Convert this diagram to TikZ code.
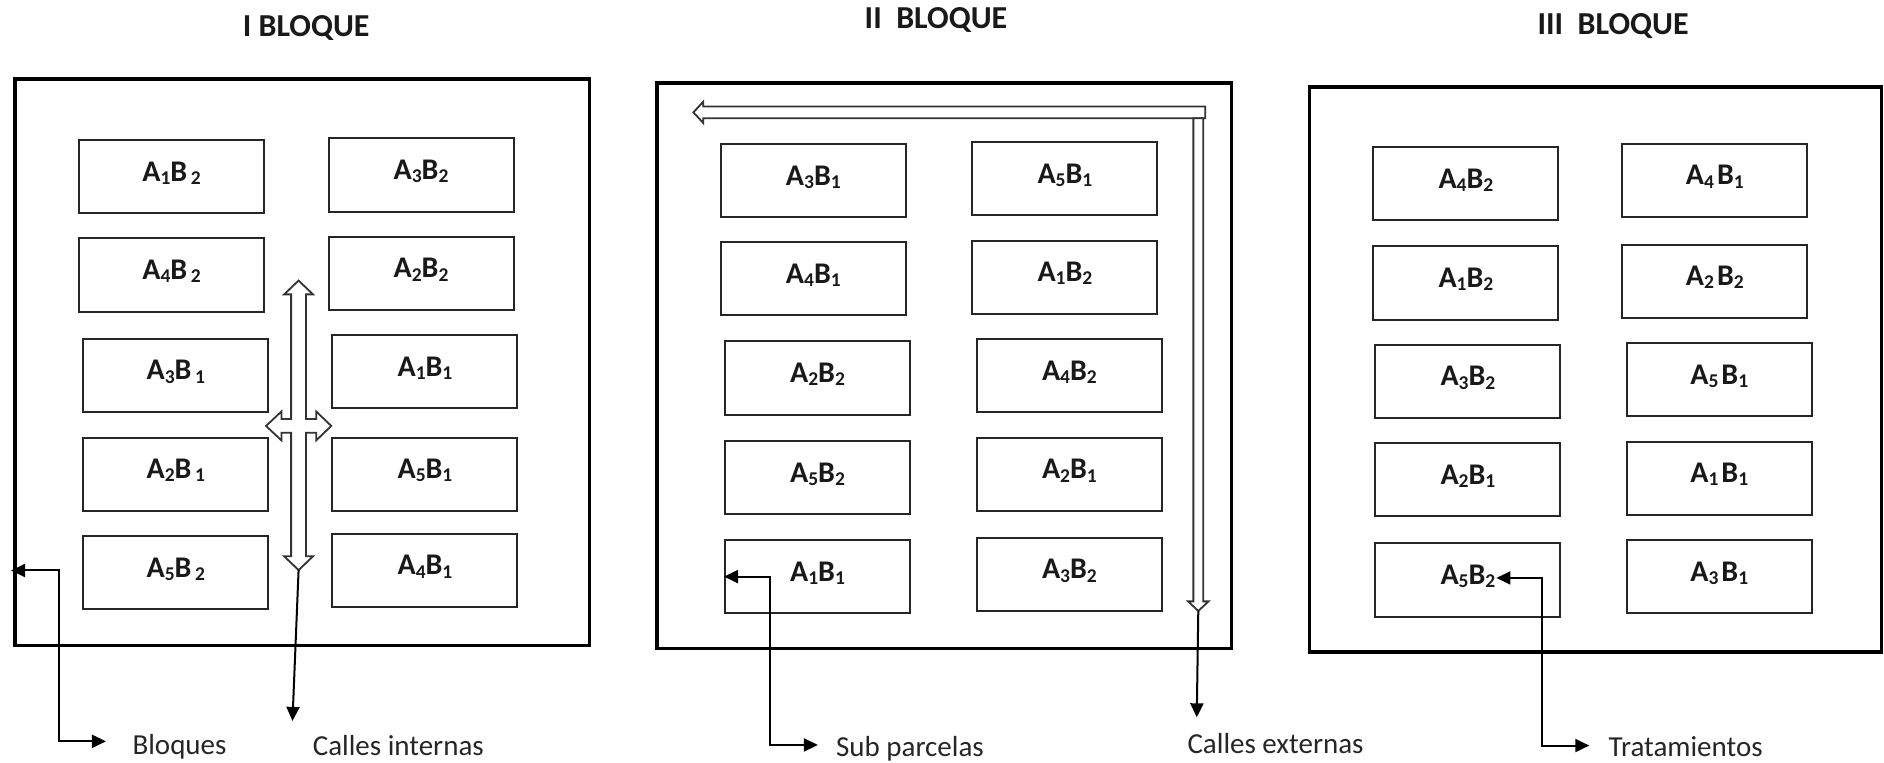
\documentclass[tikz,border=0pt]{standalone}
\usepackage{fontspec}
\setmainfont{Carlito}
\usetikzlibrary{arrows.meta}
\newcommand{\sbx}[1]{\raisebox{-0.11em}{\fontsize{9.75}{10}\selectfont #1}}
\newcommand{\abx}[2]{A\sbx{#1}B\sbx{#2}}
\newcommand{\aby}[2]{A\sbx{#1}B\kern0.12em\sbx{#2}}
\newcommand{\abz}[2]{A\sbx{#1}\kern0.1em B\sbx{#2}}
\tikzset{
  plotbox/.style={draw=black!85, line width=1pt, inner sep=0pt, minimum width=92.5pt,
    text height=20.5pt, text depth=16.1pt, font=\bfseries\fontsize{15}{15}\selectfont, text=black!90},
  blockbox/.style={draw=black, line width=1.7pt, inner sep=0pt},
  hollow/.style={draw=black!80, line width=0.9pt, fill=white, line join=miter},
  conn/.style={draw=black, line width=1pt},
  ttl/.style={font=\bfseries\fontsize{16}{16}\selectfont, anchor=base, inner sep=0pt, text=black!90},
  lbl/.style={font=\fontsize{14.5}{14.5}\selectfont, anchor=base west, inner sep=0pt, text=black!85},
  >={Triangle[length=7pt,width=6.5pt]}
}
\begin{document}
\begin{tikzpicture}[x=0.6008pt,y=-0.6008pt]
\useasboundingbox (0,0) rectangle (1568,635);

% titles
\node[ttl] (tI) at (254.8,30.5) {I BLOQUE};
\node[ttl] (tII) at (779,24) {II~~BLOQUE};
\node[ttl] (tIII) at (1342.5,28.5) {III~~BLOQUE};

% blocks
\node[blockbox, minimum width=287.4pt, minimum height=283.3pt] (blkI) at (251.65,301.65) {};
\node[blockbox, minimum width=287.4pt, minimum height=282.8pt] (blkII) at (785.95,304.45) {};
\node[blockbox, minimum width=286.0pt, minimum height=282.6pt] (blkIII) at (1328.05,307.55) {};

% block I plots
\node[plotbox] (IL1) at (142.8,147.2) {\aby{1}{2}};
\node[plotbox] (IL2) at (142.8,228.9) {\aby{4}{2}};
\node[plotbox] (IL3) at (146.3,312.6) {\aby{3}{1}};
\node[plotbox] (IL4) at (146.3,394.7) {\aby{2}{1}};
\node[plotbox] (IL5) at (146.3,476.6) {\aby{5}{2}};
\node[plotbox] (IR1) at (350.4,145.7) {\abx{3}{2}};
\node[plotbox] (IR2) at (350.4,227.7) {\abx{2}{2}};
\node[plotbox] (IR3) at (353.7,309.4) {\abx{1}{1}};
\node[plotbox] (IR4) at (353.7,394.7) {\abx{5}{1}};
\node[plotbox] (IR5) at (353.7,474.8) {\abx{4}{1}};

% block II plots
\node[plotbox] (IIL1) at (676.9,150.4) {\abx{3}{1}};
\node[plotbox] (IIL2) at (676.9,232.1) {\abx{4}{1}};
\node[plotbox] (IIL3) at (680.4,314.6) {\abx{2}{2}};
\node[plotbox] (IIL4) at (680.4,397.7) {\abx{5}{2}};
\node[plotbox] (IIL5) at (680.4,479.9) {\abx{1}{1}};
\node[plotbox] (IIR1) at (886.3,148.8) {\abx{5}{1}};
\node[plotbox] (IIR2) at (886.3,230.7) {\abx{1}{2}};
\node[plotbox] (IIR3) at (890,312.8) {\abx{4}{2}};
\node[plotbox] (IIR4) at (890,394.9) {\abx{2}{1}};
\node[plotbox] (IIR5) at (890,478) {\abx{3}{2}};

% block III plots
\node[plotbox] (IIIL1) at (1220,153) {\abx{4}{2}};
\node[plotbox] (IIIL2) at (1220,235.6) {\abx{1}{2}};
\node[plotbox] (IIIL3) at (1221.7,317.5) {\abx{3}{2}};
\node[plotbox] (IIIL4) at (1221.7,399.2) {\abx{2}{1}};
\node[plotbox] (IIIL5) at (1221.7,482.7) {\abx{5}{2}};
\node[plotbox] (IIIR1) at (1427.2,150.2) {\abz{4}{1}};
\node[plotbox] (IIIR2) at (1427.2,234) {\abz{2}{2}};
\node[plotbox] (IIIR3) at (1430.9,316) {\abz{5}{1}};
\node[plotbox] (IIIR4) at (1430.9,398) {\abz{1}{1}};
\node[plotbox] (IIIR5) at (1430.9,480.1) {\abz{3}{1}};

% hollow cross arrow (internal streets)
\draw[hollow] (248.5,233.5) -- (260.5,245) -- (254.7,245) -- (254.7,348.8) -- (263.2,348.8)
  -- (263.2,342.5) -- (275.7,354.5) -- (263.2,366.5) -- (263.2,360.2) -- (254.7,360.2)
  -- (254.7,463) -- (260.5,463) -- (248.5,474.5) -- (236.5,463) -- (242.3,463)
  -- (242.3,360.2) -- (234.2,360.2) -- (234.2,366.5) -- (221.4,354.5) -- (234.2,342.5)
  -- (234.2,348.8) -- (242.3,348.8) -- (242.3,245) -- (236.5,245) -- cycle;

% hollow L arrow (external streets)
\draw[hollow] (577.1,93.5) -- (585.3,84.6) -- (585.3,88.6) -- (1003,88.6) -- (1003,98.4)
  -- (585.3,98.4) -- (585.3,102.4) -- cycle;
\draw[hollow] (993.2,98.4) -- (1001.4,98.4) -- (1001.4,500.5) -- (1005.8,500.5)
  -- (997.3,508.5) -- (988.8,500.5) -- (993.2,500.5) -- cycle;

% bottom labels
\node[lbl] (lBq) at (110,628) {Bloques};
\node[lbl] (lCi) at (260,629) {Calles internas};
\node[lbl] (lSp) at (695.5,630) {Sub parcelas};
\node[lbl] (lCe) at (988,627) {Calles externas};
\node[lbl] (lTr) at (1338.5,630) {Tratamientos};

% connector coordinates
\coordinate (bqTip) at (9.2,474.8);
\coordinate (bqEnd) at (88.2,617);
\coordinate (ciStart) at (248.5,474.5);
\coordinate (ciEnd) at (243.4,600);
\coordinate (spEnd) at (680.7,620);
\coordinate (ceStart) at (997.3,508.5);
\coordinate (ceEnd) at (996,597);
\coordinate (trTip) at (1245.4,481);
\coordinate (trEnd) at (1322.7,620.5);

% connectors
\draw[conn,<->] (bqTip) -- ++(40.1,0) |- (bqEnd);
\draw[conn,->] (ciStart) -- (ciEnd);
\draw[conn,<->] (IIL5.west) -- ++(38.5,0) |- (spEnd);
\draw[conn,->] (ceStart) -- (ceEnd);
\draw[conn,<->] (trTip) -- ++(37.9,0) |- (trEnd);
\end{tikzpicture}
\end{document}
